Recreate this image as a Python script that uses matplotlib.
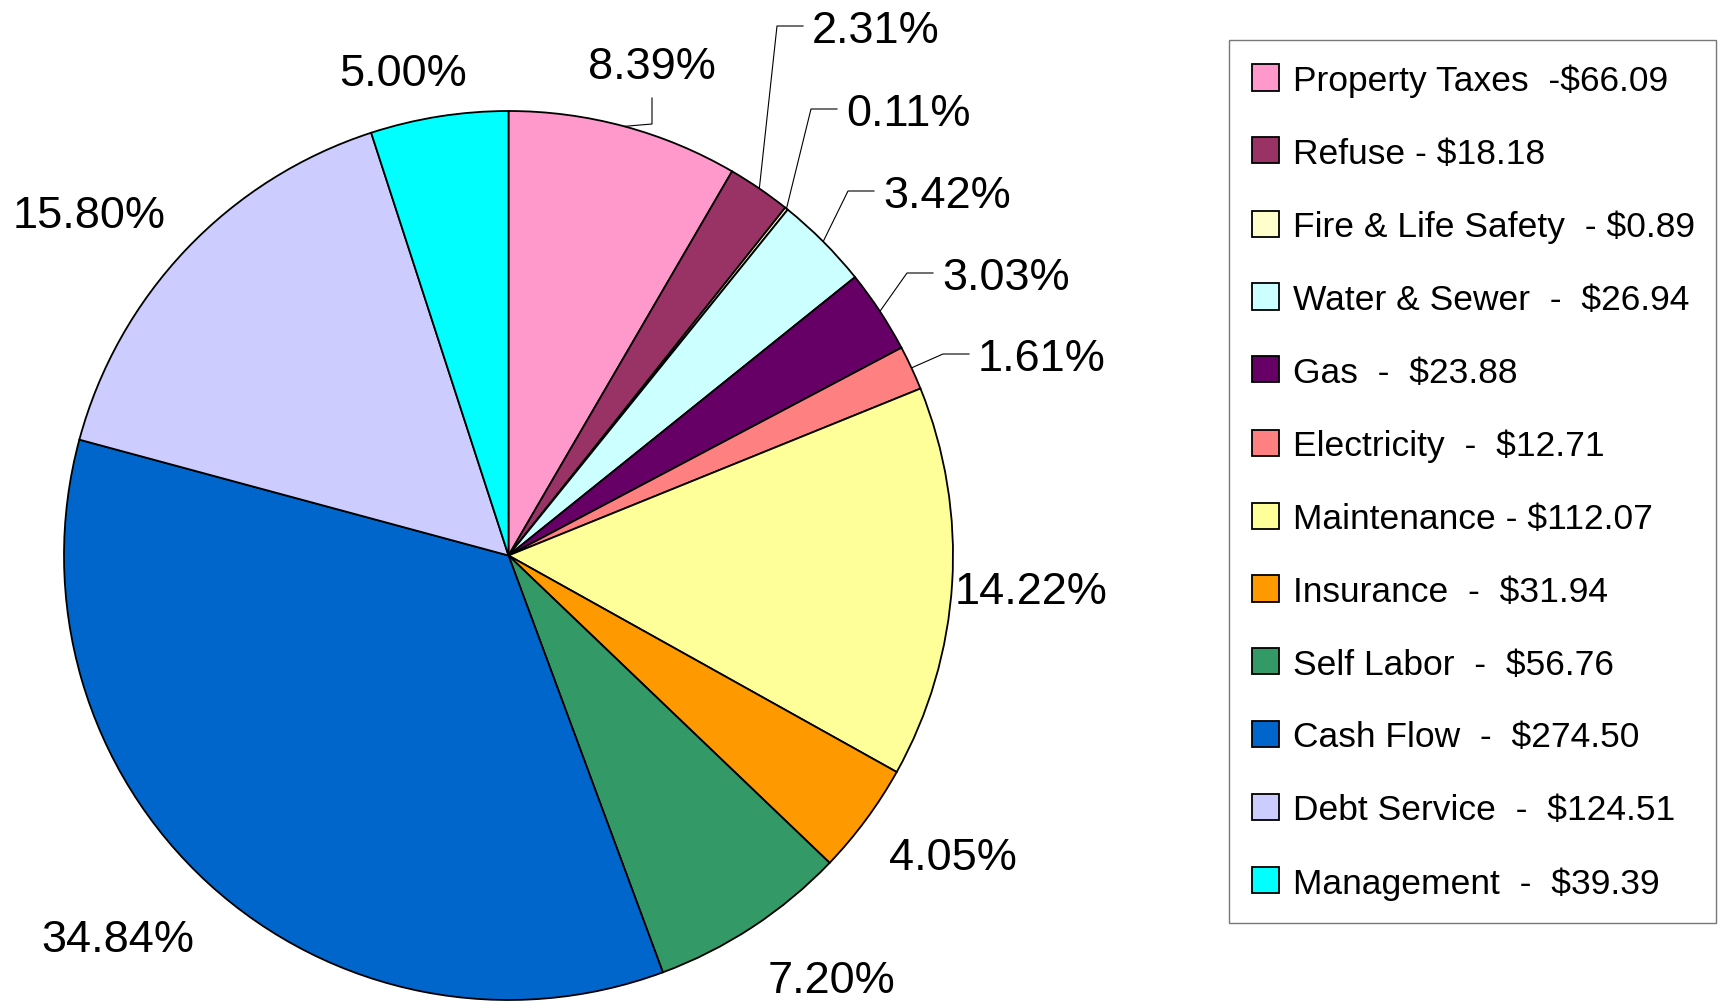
import matplotlib
matplotlib.use("Agg")
import matplotlib.pyplot as plt
from matplotlib import font_manager
import numpy as np

# ---------------- data ----------------
categories = ["Property Taxes", "Refuse", "Fire & Life Safety", "Water & Sewer", "Gas",
              "Electricity", "Maintenance", "Insurance", "Self Labor", "Cash Flow",
              "Debt Service", "Management"]
values = [66.09, 18.18, 0.89, 26.94, 23.88, 12.71, 112.07, 31.94, 56.76, 274.50, 124.51, 39.39]
legend_labels = ["Property Taxes  -$66.09", "Refuse - $18.18", "Fire & Life Safety  - $0.89",
                 "Water & Sewer  -  $26.94", "Gas  -  $23.88", "Electricity  -  $12.71",
                 "Maintenance - $112.07", "Insurance  -  $31.94", "Self Labor  -  $56.76",
                 "Cash Flow  -  $274.50", "Debt Service  -  $124.51", "Management  -  $39.39"]
colors = ["#FF99CC", "#993366", "#FFFFCC", "#CCFFFF", "#660066", "#FF8080",
          "#FFFF99", "#FF9900", "#339966", "#0066CC", "#CCCCFF", "#00FFFF"]

# ---------------- fonts ----------------
names = {f.name for f in font_manager.fontManager.ttflist}
narrow = "Liberation Sans Narrow" in names
legend_family = "Liberation Sans Narrow" if narrow else "Liberation Sans"
legend_size = 30 if narrow else 25.5
plt.rcParams["font.family"] = ["Liberation Sans", "DejaVu Sans"]

W, H = 1723, 1003
fig = plt.figure(figsize=(W / 100, H / 100), dpi=100)
ax = fig.add_axes([0, 0, 1, 1])

CX, CY, R = 508.5, 556.5, 444.5


def px(x, y):
    return ((x - CX) / R, (CY - y) / R)


wedges, _ = ax.pie(values, colors=colors, startangle=90, counterclock=False,
                   radius=1, center=(0, 0),
                   wedgeprops=dict(edgecolor="black", linewidth=1.3))
ax.set_xlim(-CX / R, (W - CX) / R)
ax.set_ylim(-(H - CY) / R, CY / R)
ax.set_aspect("equal")
ax.axis("off")

total = sum(values)
pct_text = [f"{v / total * 100:.2f}%" for v in values]

# label layout: (x_px, y_px, ha, leader)
layout = [
    (652, 63, "center", "vert"),
    (812, 27, "left", "elbow"),
    (846, 110, "left", "elbow"),
    (883, 192, "left", "elbow"),
    (942, 274, "left", "elbow"),
    (978, 355, "left", "elbow"),
    (1031, 589, "center", None),
    (953, 855, "center", None),
    (831, 978, "center", None),
    (118, 937, "center", None),
    (89, 212, "center", None),
    (403, 70, "center", None),
]

for w, txt, (lx, ly, ha, leader) in zip(wedges, pct_text, layout):
    tx, ty = px(lx, ly)
    _, ty_text = px(lx, ly + 4)
    ax.text(tx, ty_text, txt, ha=ha, va="center", fontsize=32.5, color="black")
    mid = np.deg2rad((w.theta1 + w.theta2) / 2)
    ex, ey = np.cos(mid), np.sin(mid)
    if leader == "elbow":
        x1, _ = px(lx - 9, ly)
        x0, _ = px(lx - 35, ly)
        ax.plot([ex, x0, x1], [ey, ty, ty], color="black", lw=0.8)
    elif leader == "vert":
        _, yb = px(lx, ly + 36)
        _, yk = px(lx, ly + 62)
        ax.plot([ex, tx, tx], [ey, yk, yb], color="black", lw=0.8)

leg = fig.legend(wedges, legend_labels, loc="upper left",
                 bbox_to_anchor=(1229 / W, 0, 487 / W, 1 - 41 / H), mode="expand",
                 borderaxespad=0, frameon=True, fancybox=False, shadow=False,
                 prop=dict(family=legend_family, size=legend_size),
                 handlelength=0.76, handleheight=0.76, handletextpad=0.4,
                 labelspacing=1.125, borderpad=0.66)
leg.get_frame().set_edgecolor("#555555")
leg.get_frame().set_linewidth(1.0)

fig.savefig("out.png", dpi=100, facecolor="white")
